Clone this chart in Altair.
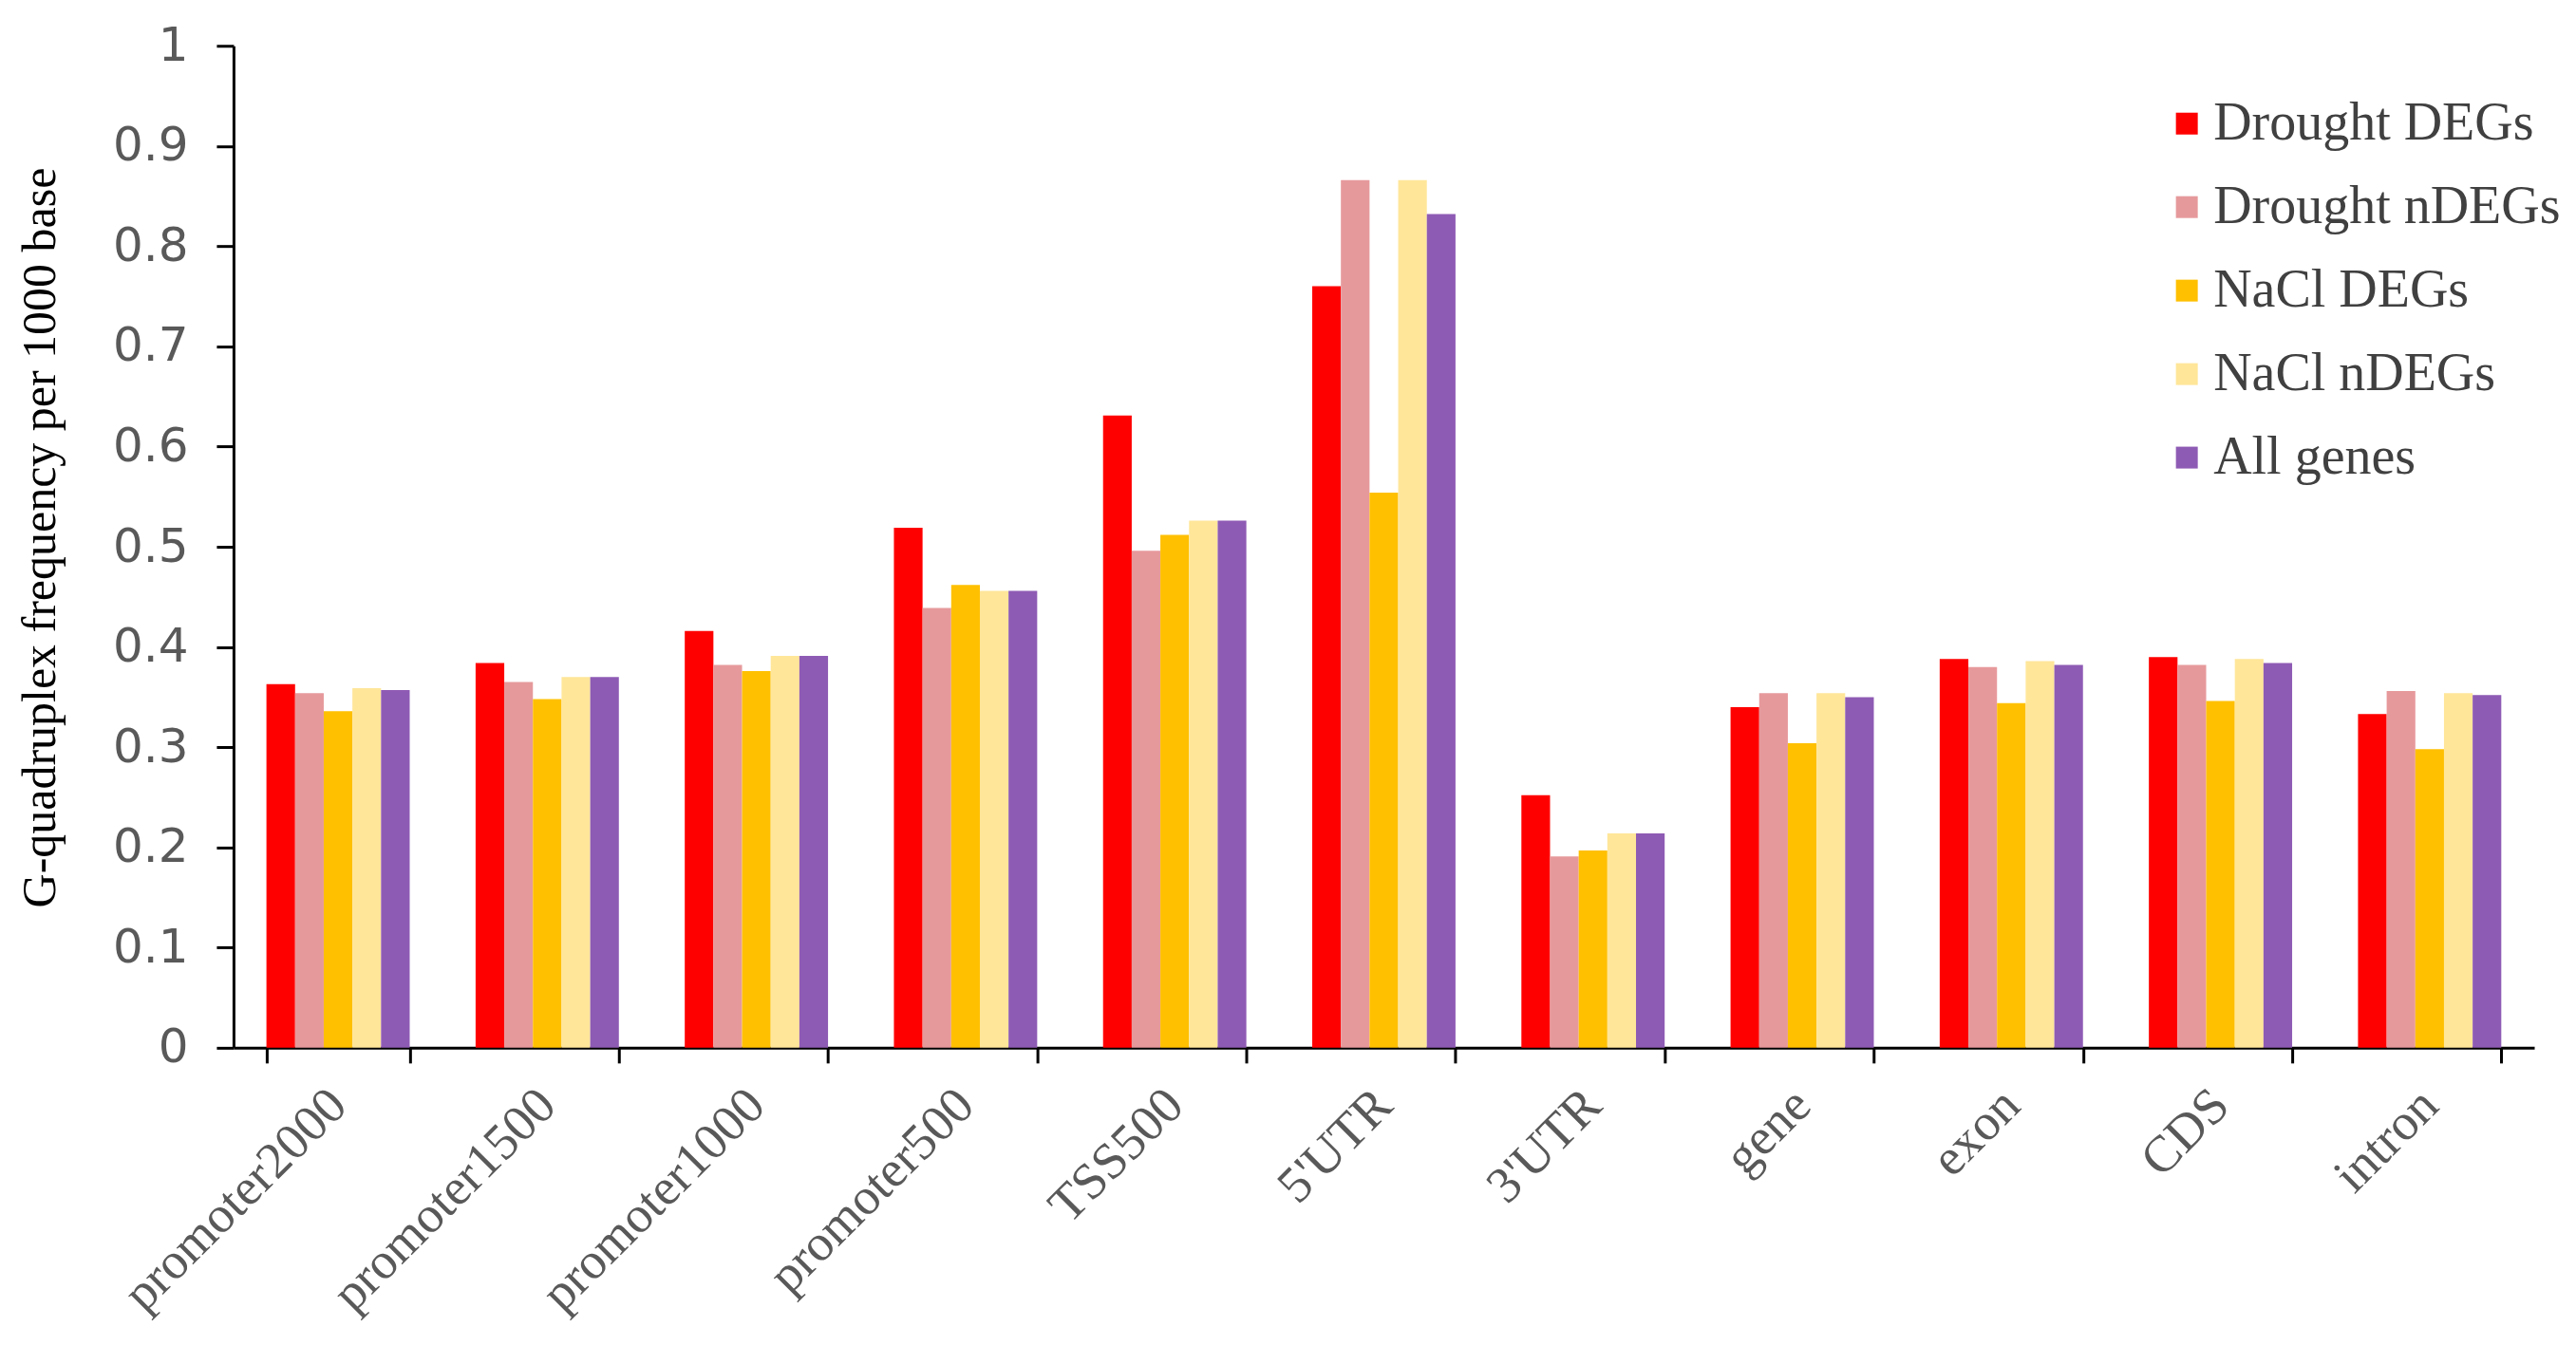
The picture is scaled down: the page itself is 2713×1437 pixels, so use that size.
import altair as alt
import pandas as pd

categories = ["promoter2000", "promoter1500", "promoter1000", "promoter500", "TSS500",
              "5'UTR", "3'UTR", "gene", "exon", "CDS", "intron"]
series = ["Drought DEGs", "Drought nDEGs", "NaCl DEGs", "NaCl nDEGs", "All genes"]
colors = ["#FF0000", "#E6999B", "#FFC000", "#FFE699", "#8E5BB4"]

drought_degs = [0.363, 0.384, 0.416, 0.519, 0.631, 0.760, 0.252, 0.340, 0.388, 0.390, 0.333]
drought_ndegs = [0.354, 0.365, 0.382, 0.439, 0.496, 0.866, 0.191, 0.354, 0.380, 0.382, 0.356]
nacl_degs = [0.336, 0.348, 0.376, 0.462, 0.512, 0.554, 0.197, 0.304, 0.344, 0.346, 0.298]
nacl_ndegs = [0.359, 0.370, 0.391, 0.456, 0.526, 0.866, 0.214, 0.354, 0.386, 0.388, 0.354]
all_genes = [0.357, 0.370, 0.391, 0.456, 0.526, 0.832, 0.214, 0.350, 0.382, 0.384, 0.352]

y_ticks = [0, 0.1, 0.2, 0.3, 0.4, 0.5, 0.6, 0.7, 0.8, 0.9, 1]

rows = []
for s, vals in zip(series, [drought_degs, drought_ndegs, nacl_degs, nacl_ndegs, all_genes]):
    for c, v in zip(categories, vals):
        rows.append({"category": c, "series": s, "value": v})
df = pd.DataFrame(rows)

chart = alt.Chart(df).mark_bar().encode(
    x=alt.X("category:N", sort=categories,
            scale=alt.Scale(paddingInner=0.315, paddingOuter=0.1575),
            axis=alt.Axis(title=None, labelAngle=-45, labelAlign="right", labelBaseline="middle",
                          labelFont="Liberation Serif", labelFontSize=54, labelColor="#595959",
                          labelPadding=36, labelLimit=1000, labelOverlap=False,
                          tickBand="extent", tickSize=16, tickWidth=3,
                          tickColor="black", domainColor="black", domainWidth=3)),
    xOffset=alt.XOffset("series:N", sort=series, scale=alt.Scale(paddingInner=0, paddingOuter=0)),
    y=alt.Y("value:Q", scale=alt.Scale(domain=[0, 1], nice=False),
            axis=alt.Axis(values=y_ticks, format=".1~f", grid=False,
                          title="G-quadruplex frequency per 1000 base",
                          titleFont="Liberation Serif", titleFontSize=50, titleFontWeight="normal",
                          titleColor="black", titleAngle=270, titleX=-203, titleY=518,
                          titleAlign="center", titleBaseline="middle",
                          labelFont="DejaVu Sans", labelFontSize=50, labelColor="#595959",
                          labelPadding=30, tickSize=18, tickWidth=3, tickColor="black",
                          domainColor="black", domainWidth=3)),
    color=alt.Color("series:N", sort=series, scale=alt.Scale(domain=series, range=colors),
                    legend=alt.Legend(title=None, orient="none", legendX=2030, legendY=54,
                                      symbolType="square", symbolSize=530, symbolStrokeWidth=0,
                                      labelFont="Liberation Serif", labelFontSize=56,
                                      labelColor="#404040", labelOffset=0, rowPadding=32,
                                      padding=0, labelLimit=600)),
).properties(
    width=2424, height=1056,
    autosize=alt.AutoSizeParams(type="none"),
    padding={"left": 238, "top": 40, "right": 36, "bottom": 325},
).configure_view(stroke="transparent")

chart.save("out.html", embed_options={"renderer": "svg", "actions": False})
